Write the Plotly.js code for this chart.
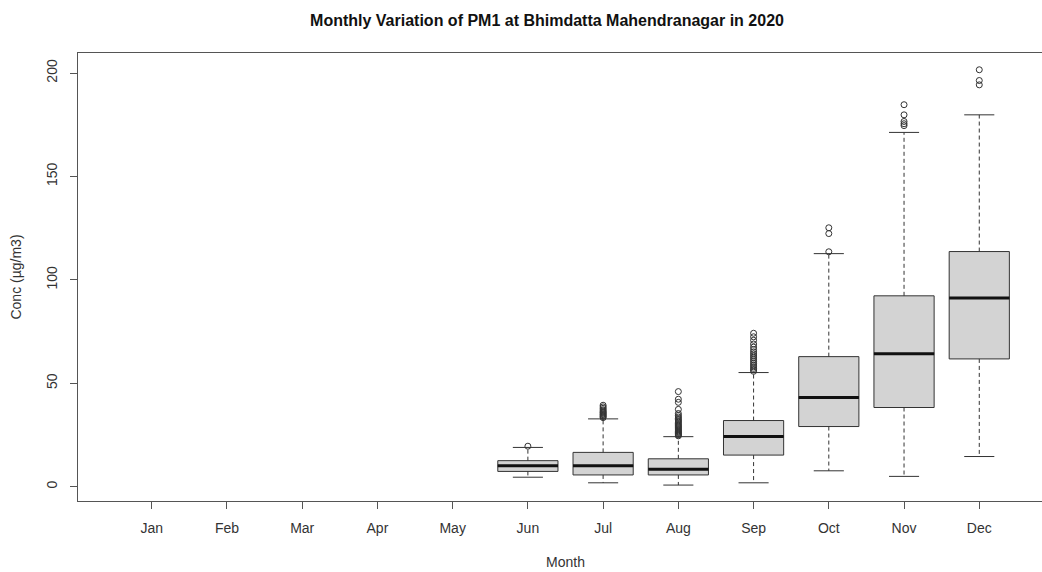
<!DOCTYPE html>
<html>
<head>
<meta charset="utf-8">
<script src="https://cdn.plot.ly/plotly-3.0.1.min.js"></script>
<style>
html, body { margin: 0; padding: 0; overflow: hidden; background: #fff; }
#chart { width: 1053px; height: 572px; }
</style>
</head>
<body>
<div id="chart"></div>
<script>
// Tick labels (all months) and months with data
const months = ['Jan', 'Feb', 'Mar', 'Apr', 'May', 'Jun', 'Jul', 'Aug', 'Sep', 'Oct', 'Nov', 'Dec'];
const dataMonths = ['Jun', 'Jul', 'Aug', 'Sep', 'Oct', 'Nov', 'Dec'];
const yTicks = [0, 50, 100, 150, 200];

// Box statistics (µg/m3)
const q1 = [7.4, 5.7, 5.7, 15.3, 29.1, 38.3, 61.8];
const median = [10.1, 10.1, 8.5, 24.3, 43.1, 64.3, 91.2];
const q3 = [12.6, 16.6, 13.5, 32.0, 62.9, 92.3, 113.7];
const lowerWhisker = [4.6, 1.9, 0.8, 1.9, 7.7, 5.0, 14.6];
const upperWhisker = [19.0, 32.8, 24.2, 55.2, 112.7, 171.3, 179.8];

// Outliers per month
const outJun = [19.6];
const outJul = [33.4, 33.9, 34.3, 34.8, 35.2, 35.7, 36.1, 36.6, 37.2, 37.9, 38.6, 39.4];
const outAug = [24.6, 25.0, 25.4, 25.8, 26.2, 26.6, 27.0, 27.5, 28.0, 28.5, 29.0, 29.5, 30.0, 30.6, 31.2, 31.8, 32.4, 33.0, 33.7, 34.5, 35.4, 37.4, 40.8, 42.3, 46.0];
const outSep = [55.8, 56.5, 57.2, 58.0, 58.8, 59.6, 60.5, 61.4, 62.3, 63.2, 64.2, 65.2, 66.3, 67.5, 69.0, 70.8, 72.5, 74.2];
const outOct = [113.6, 122.4, 125.2];
const outNov = [174.6, 175.5, 176.6, 179.8, 184.7];
const outDec = [194.3, 196.4, 201.6];
const outliers = [outJun, outJul, outAug, outSep, outOct, outNov, outDec];

const boxWidth = 0.8;
const capWidth = 0.4;
const ink = '#333333';

const pos = dataMonths.map(m => months.indexOf(m) + 1);

const traces = [];

// Box bodies
traces.push({
  type: 'box',
  x: pos,
  q1: q1,
  median: median,
  q3: q3,
  lowerfence: q1,
  upperfence: q3,
  width: boxWidth,
  fillcolor: '#d3d3d3',
  line: { color: ink, width: 1 },
  whiskerwidth: 0,
  boxpoints: false,
  hoverinfo: 'skip',
  showlegend: false
});

// Dashed whiskers
const wx = [], wy = [];
pos.forEach((p, i) => {
  wx.push(p, p, null, p, p, null);
  wy.push(q3[i], upperWhisker[i], null, q1[i], lowerWhisker[i], null);
});
traces.push({
  type: 'scatter', mode: 'lines', x: wx, y: wy,
  line: { color: ink, width: 1, dash: '4px,3px' },
  hoverinfo: 'skip', showlegend: false
});

// Whisker caps
const cx = [], cy = [];
pos.forEach((p, i) => {
  cx.push(p - capWidth / 2, p + capWidth / 2, null, p - capWidth / 2, p + capWidth / 2, null);
  cy.push(upperWhisker[i], upperWhisker[i], null, lowerWhisker[i], lowerWhisker[i], null);
});
traces.push({
  type: 'scatter', mode: 'lines', x: cx, y: cy,
  line: { color: ink, width: 1 },
  hoverinfo: 'skip', showlegend: false
});

// Thick medians
const mx = [], my = [];
pos.forEach((p, i) => {
  mx.push(p - boxWidth / 2, p + boxWidth / 2, null);
  my.push(median[i], median[i], null);
});
traces.push({
  type: 'scatter', mode: 'lines', x: mx, y: my,
  line: { color: '#111111', width: 3 },
  hoverinfo: 'skip', showlegend: false
});

// Outliers
const ox = [], oy = [];
pos.forEach((p, i) => {
  outliers[i].forEach(v => { ox.push(p); oy.push(v); });
});
traces.push({
  type: 'scatter', mode: 'markers', x: ox, y: oy,
  marker: { symbol: 'circle-open', size: 6, color: ink, line: { width: 1, color: ink } },
  hoverinfo: 'skip', showlegend: false
});

const font = 'Liberation Sans, Arial, sans-serif';

const layout = {
  width: 1053,
  height: 572,
  margin: { l: 78, r: 0, t: 53, b: 71 },
  paper_bgcolor: '#ffffff',
  plot_bgcolor: '#ffffff',
  showlegend: false,
  title: {
    text: '<b>Monthly Variation of PM1 at Bhimdatta Mahendranagar in 2020</b>',
    font: { family: font, size: 16, color: '#111111' },
    xref: 'container', x: 547 / 1053, xanchor: 'center',
    yref: 'container', y: 1 - 20 / 572, yanchor: 'middle'
  },
  xaxis: {
    range: [0.02, 12.98],
    tickmode: 'array',
    tickvals: months.map((m, i) => i + 1),
    ticktext: months,
    ticks: 'outside', ticklen: 7, tickwidth: 1, tickcolor: '#555',
    ticklabelstandoff: 7,
    showline: true, mirror: true, linecolor: '#555', linewidth: 1,
    showgrid: false, zeroline: false,
    tickfont: { family: font, size: 14, color: '#333' },
    title: { text: 'Month', font: { family: font, size: 14, color: '#333' }, standoff: 22 }
  },
  yaxis: {
    range: [-6.9, 209.7],
    tickmode: 'array',
    tickvals: yTicks,
    ticktext: yTicks.map(String),
    tickangle: -90,
    ticks: 'outside', ticklen: 7, tickwidth: 1, tickcolor: '#555',
    ticklabelstandoff: 7,
    showline: true, mirror: false, linecolor: '#555', linewidth: 1,
    showgrid: false, zeroline: false,
    tickfont: { family: font, size: 14, color: '#333' },
    title: { text: 'Conc (µg/m3)', font: { family: font, size: 14, color: '#333' }, standoff: 19 }
  }
};

Plotly.newPlot('chart', traces, layout, { displayModeBar: false, staticPlot: true });
</script>
</body>
</html>
